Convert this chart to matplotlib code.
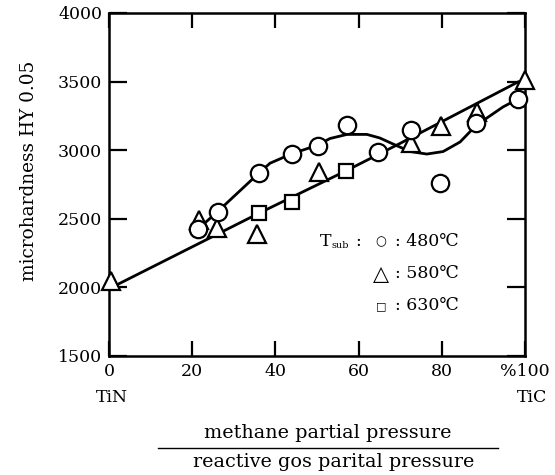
import matplotlib
matplotlib.use("Agg")
import numpy as np
from matplotlib import pyplot as plt
from matplotlib.lines import Line2D

# measured points, Tsub = 480 C (circles)
x_480 = [21.4, 26.2, 36.1, 44.0, 50.2, 57.2, 64.7, 72.6, 79.6, 88.2, 98.3]
y_480 = [2425, 2550, 2835, 2970, 3030, 3185, 2990, 3150, 2760, 3200, 3375]

# Tsub = 580 C (triangles)
x_580 = [0.5, 21.6, 26.0, 35.6, 50.5, 72.6, 79.8, 88.5, 100.0]
y_580 = [2050, 2490, 2435, 2390, 2840, 3050, 3180, 3280, 3515]

# Tsub = 630 C (squares)
x_630 = [36.1, 44.0, 57.0]
y_630 = [2540, 2620, 2845]

# hand drawn curves
curve_a_x = [21.4, 26.2, 36.1, 38.7, 44.0, 50.0, 53.1, 57.2, 62.0, 65.1, 68.8,
             72.4, 76.4, 80.3, 84.4, 88.2, 94.7, 98.3]
curve_a_y = [2425, 2555, 2835, 2905, 2975, 3035, 3085, 3115, 3115, 3089, 3038,
             2990, 2972, 2990, 3060, 3180, 3315, 3373]
curve_b_x = [0, 36, 57, 70, 98.5]
curve_b_y = [1990, 2540, 2850, 3050, 3500]

xticks = [0, 20, 40, 60, 80, 100]
xticklabels = ['0', '20', '40', '60', '80', '%100']
yticks = [1500, 2000, 2500, 3000, 3500, 4000]

legend_rows = [('○', ': 480℃'), ('△', ': 580℃'), ('□', ': 630℃')]

plt.rcParams['font.family'] = ['DejaVu Serif', 'DejaVu Sans']
plt.rcParams['font.size'] = 12.5

W, H = 555, 475
fig = plt.figure(figsize=(W / 100, H / 100), dpi=100)
ax = fig.add_axes([109 / W, 1 - 356 / H, (525 - 109) / W, (356 - 13) / H])

ax.plot(curve_b_x, curve_b_y, color='k', lw=2.0, solid_capstyle='round',
        solid_joinstyle='round', zorder=2)
ax.plot(curve_a_x, curve_a_y, color='k', lw=2.0, solid_capstyle='round',
        solid_joinstyle='round', zorder=2)

mk = dict(linestyle='none', markerfacecolor='white', markeredgecolor='k',
          markeredgewidth=1.6, zorder=3, clip_on=False)
ax.plot(x_580, y_580, marker='^', markersize=12.5, **mk)
ax.plot(x_630, y_630, marker='s', markersize=9.5, **mk)
ax.plot(x_480, y_480, marker='o', markersize=12.5, **mk)

ax.set_xlim(0, 100)
ax.set_ylim(1500, 4000)
ax.set_xticks(xticks)
ax.set_xticklabels(xticklabels)
ax.set_yticks(yticks)
ax.tick_params(direction='in', top=True, right=True, length=11, width=1.6,
               labelsize=12.5, pad=5)
ax.tick_params(axis='y', length=13)
for s in ax.spines.values():
    s.set_linewidth(1.8)

ax.set_ylabel('microhardness HY 0.05', fontsize=13.3)
ax.yaxis.set_label_coords(-71 / (525 - 109), (356 - 171) / (356 - 13))

def px(xp, yp):
    return (xp / W, 1 - yp / H)

# TiN / TiC under the ends of the axis
fig.text(*px(112, 398), 'TiN', ha='center', va='center', fontsize=12.5)
fig.text(*px(532, 398), 'TiC', ha='center', va='center', fontsize=12.5)

# fraction label
fig.text(*px(328, 433), 'methane partial pressure', ha='center', va='center', fontsize=13.8)
fig.text(*px(334, 462), 'reactive gos parital pressure', ha='center', va='center', fontsize=13.8)
fig.add_artist(Line2D([158 / W, 498 / W], [1 - 448 / H, 1 - 448 / H],
                      color='k', lw=1.0))

# legend drawn as text
fig.text(*px(326, 242), 'T', ha='center', va='center', fontsize=12.5)
fig.text(*px(340, 245), 'sub', ha='center', va='center', fontsize=7)
fig.text(*px(358, 241), ':', ha='center', va='center', fontsize=12.5)
row_y = [242, 274, 306]
sym_size = [9, 15, 8]
for (sym, lab), yy, ss in zip(legend_rows, row_y, sym_size):
    fig.text(*px(381, yy), sym, ha='center', va='center', fontsize=ss,
             family=['DejaVu Sans'])
    fig.text(*px(395, yy), lab, ha='left', va='center', fontsize=12.5)

fig.savefig('out.png', dpi=100)
